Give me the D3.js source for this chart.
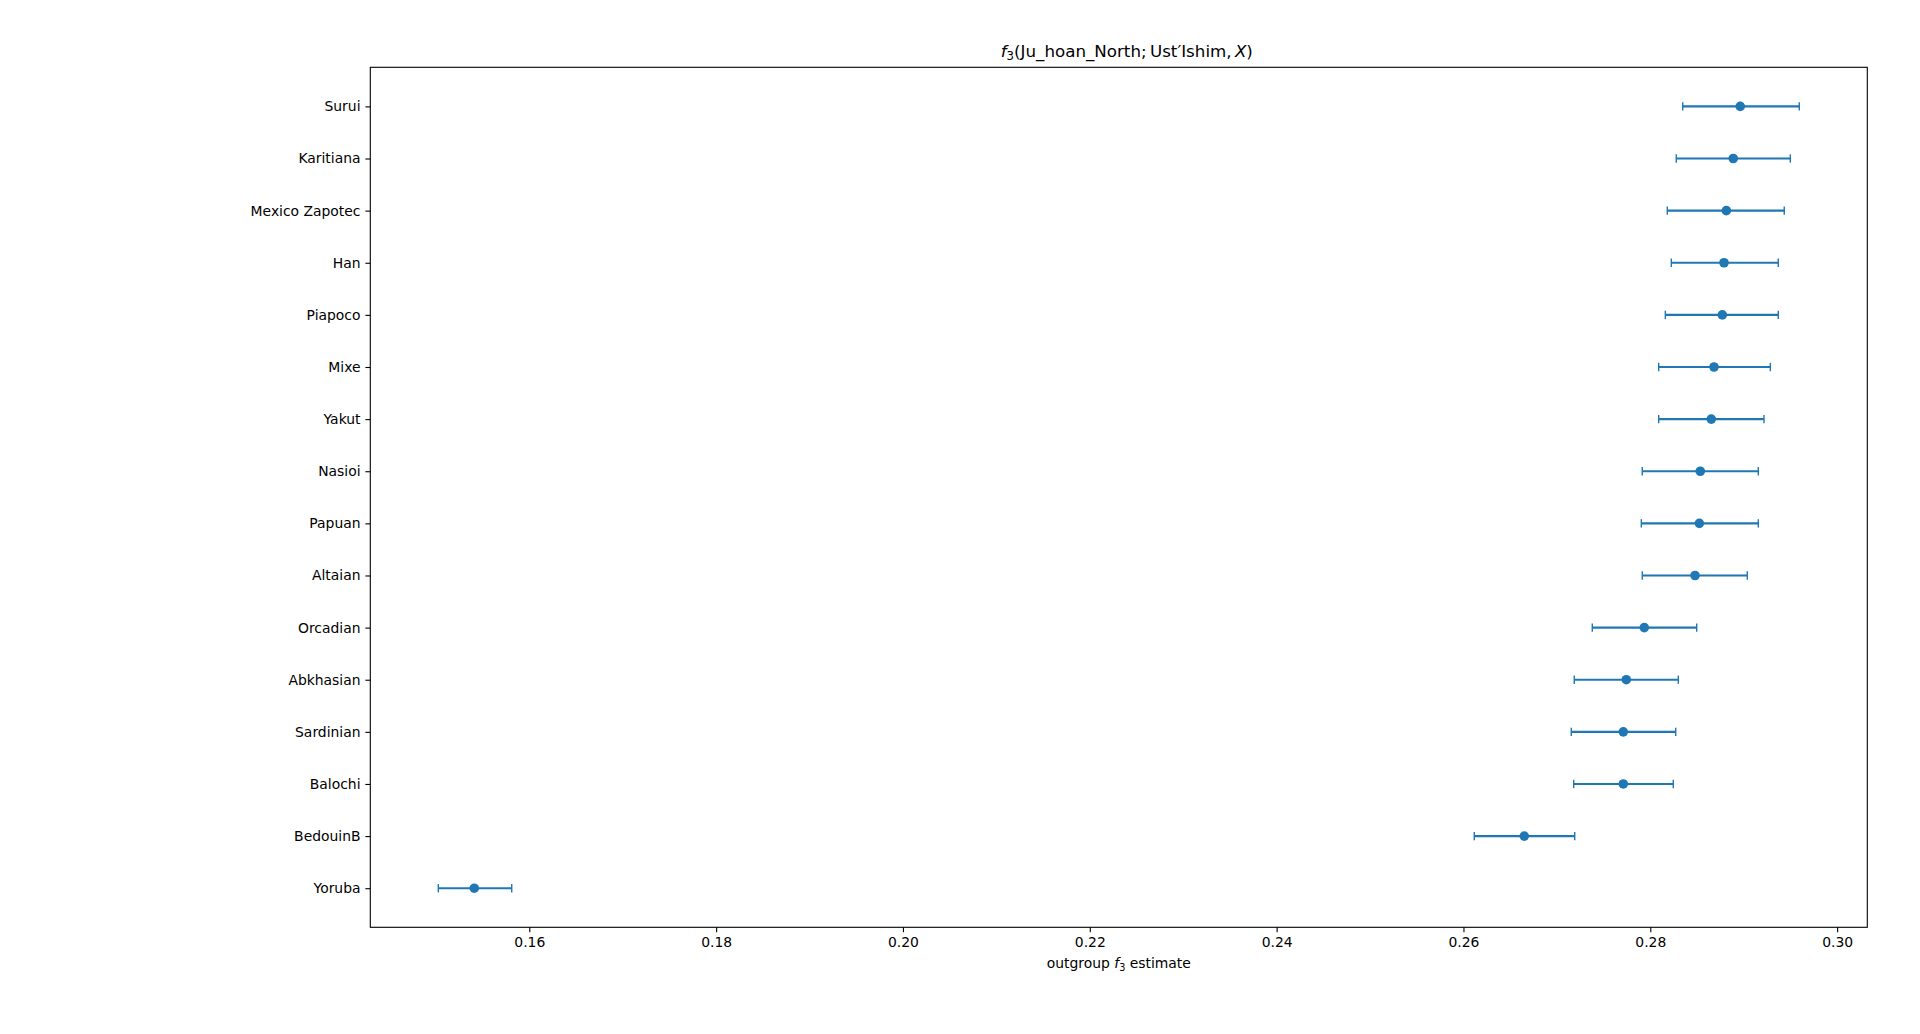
<!DOCTYPE html>
<html>
<head>
<meta charset="utf-8">
<script src="https://cdn.jsdelivr.net/npm/d3@7"></script>
<style>
  html, body { margin: 0; padding: 0; background: #fff; }
  svg { display: block; }
  text { font-family: "DejaVu Sans", sans-serif; fill: #000; }
</style>
</head>
<body>
<svg id="chart" width="1920" height="1034"></svg>
<script>
// ---- data (top to bottom) ----
const populations = ["Surui", "Karitiana", "Mexico Zapotec", "Han", "Piapoco", "Mixe", "Yakut",
  "Nasioi", "Papuan", "Altaian", "Orcadian", "Abkhasian", "Sardinian", "Balochi", "BedouinB", "Yoruba"];
const estimates = [0.28963, 0.28888, 0.28814, 0.28789, 0.28771, 0.28682, 0.28653,
  0.28535, 0.28525, 0.28479, 0.27936, 0.27743, 0.27711, 0.27711, 0.26651, 0.15411];
const lowerBounds = [0.28347, 0.28278, 0.28182, 0.28225, 0.28161, 0.28090, 0.28090,
  0.27914, 0.27904, 0.27914, 0.27379, 0.27186, 0.27154, 0.27180, 0.26116, 0.15026];
const upperBounds = [0.29595, 0.29499, 0.29434, 0.29370, 0.29370, 0.29285, 0.29217,
  0.29156, 0.29156, 0.29038, 0.28497, 0.28300, 0.28272, 0.28246, 0.27191, 0.15812];
const xTicks = [0.16, 0.18, 0.20, 0.22, 0.24, 0.26, 0.28, 0.30];

// ---- layout ----
const L = 370.3, R = 1867.3, T = 67.3, B = 927.3;
const color = "#1f77b4";
const svg = d3.select("#chart");

const x = d3.scaleLinear().domain([0.14298, 0.30323]).range([L, R]);
const y = d3.scaleLinear().domain([-0.75, populations.length - 1 + 0.75]).range([T, B]);

const rows = populations.map((p, i) => ({ name: p, i, v: estimates[i], lo: lowerBounds[i], hi: upperBounds[i] }));

// axes
const xAxis = d3.axisBottom(x).tickValues(xTicks).tickFormat(d3.format(".2f")).tickSize(4.9).tickPadding(4.9);
const gx = svg.append("g").attr("transform", `translate(0,${B})`).call(xAxis);
const yAxis = d3.axisLeft(y).tickValues(d3.range(populations.length)).tickFormat(i => populations[i]).tickSize(4.9).tickPadding(4.9);
const gy = svg.append("g").attr("transform", `translate(${L},0)`).call(yAxis);
[gx, gy].forEach(g => {
  g.select(".domain").remove();
  g.selectAll(".tick line").attr("stroke", "#000").attr("stroke-width", 1.1);
  g.selectAll(".tick text").attr("font-size", "13.9px").attr("fill", "#000")
    .style("font-family", "'DejaVu Sans', sans-serif");
});

// frame
svg.append("rect").attr("x", L).attr("y", T).attr("width", R - L).attr("height", B - T)
  .attr("fill", "none").attr("stroke", "#000").attr("stroke-width", 1.1);

// error bars
const g = svg.append("g");
g.selectAll("line.err").data(rows).join("line").attr("class", "err")
  .attr("x1", d => x(d.lo)).attr("x2", d => x(d.hi))
  .attr("y1", d => y(d.i)).attr("y2", d => y(d.i))
  .attr("stroke", color).attr("stroke-width", 2.1);
const capH = 4.2;
["lo", "hi"].forEach(k => {
  g.selectAll("line.cap" + k).data(rows).join("line").attr("class", "cap" + k)
    .attr("x1", d => x(d[k])).attr("x2", d => x(d[k]))
    .attr("y1", d => y(d.i) - capH).attr("y2", d => y(d.i) + capH)
    .attr("stroke", color).attr("stroke-width", 1.4);
});
g.selectAll("circle").data(rows).join("circle")
  .attr("cx", d => x(d.v)).attr("cy", d => y(d.i)).attr("r", 4.8)
  .attr("fill", color);

// title
const title = svg.append("text").attr("x", (L + R) / 2 + 8).attr("y", 57)
  .attr("text-anchor", "middle").attr("font-size", "16.7px");
title.append("tspan").attr("font-style", "italic").text("f");
title.append("tspan").attr("font-size", "11.7px").attr("dy", 3).text("3");
title.append("tspan").attr("dy", -3).text("(Ju_hoan_North;\u2009Ust\u2032Ishim,\u2009");
title.append("tspan").attr("font-style", "italic").text("X");
title.append("tspan").text(")");

// x label
const xl = svg.append("text").attr("x", (L + R) / 2).attr("y", 968)
  .attr("text-anchor", "middle").attr("font-size", "13.9px");
xl.append("tspan").text("outgroup ");
xl.append("tspan").attr("font-style", "italic").text("f");
xl.append("tspan").attr("font-size", "9.7px").attr("dy", 2.5).text("3");
xl.append("tspan").attr("dy", -2.5).text(" estimate");
</script>
</body>
</html>
